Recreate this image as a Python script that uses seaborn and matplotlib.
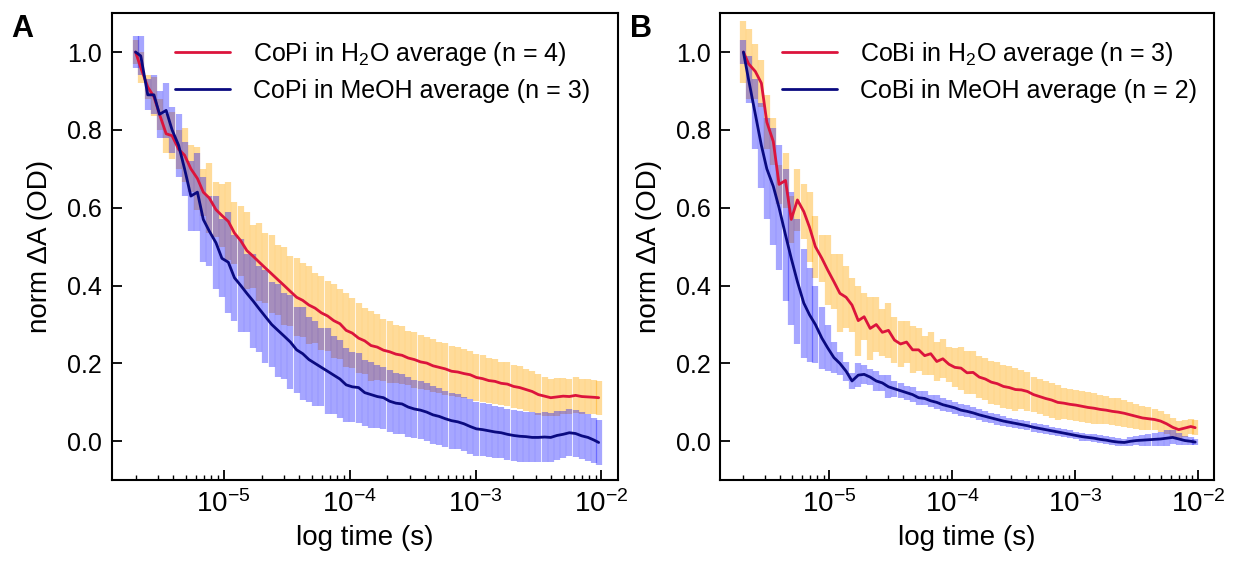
import numpy as np
import pandas as pd
import matplotlib
matplotlib.use("Agg")
import matplotlib.pyplot as plt
import seaborn as sns

FONT_SIZE = 18

# shared time axis (microseconds)
time_us = [2.0, 2.2, 2.5, 2.8, 3.1, 3.5, 3.9, 4.4, 4.9, 5.5,
           6.2, 6.9, 7.7, 8.7, 9.7, 10.9, 12.2, 13.7, 15.3, 17.2,
           19.2, 21.5, 24.1, 27.0, 30.3, 33.9, 38.0, 42.5, 47.6, 53.3,
           59.7, 66.9, 74.9, 83.9, 94.0, 105, 118, 132, 148, 166,
           186, 208, 233, 261, 292, 327, 366, 410, 459, 514,
           576, 645, 723, 810, 907, 1016, 1138, 1274, 1427, 1598,
           1790, 2005, 2245, 2515, 2816, 3154, 3533, 3957, 4432, 4963,
           5559, 6226, 6973, 7810, 8747, 9500]

# panel A: CoPi
copi_h2o = [1.00, 0.96, 0.91, 0.885, 0.84, 0.79, 0.785, 0.75, 0.735, 0.70,
            0.675, 0.64, 0.625, 0.595, 0.58, 0.565, 0.535, 0.515, 0.49, 0.475,
            0.46, 0.445, 0.43, 0.415, 0.40, 0.385, 0.37, 0.362, 0.35, 0.342,
            0.33, 0.322, 0.31, 0.302, 0.285, 0.278, 0.265, 0.258, 0.246, 0.242,
            0.234, 0.23, 0.224, 0.221, 0.214, 0.21, 0.204, 0.201, 0.194, 0.19,
            0.186, 0.18, 0.178, 0.174, 0.171, 0.164, 0.161, 0.156, 0.154, 0.149,
            0.147, 0.141, 0.138, 0.133, 0.128, 0.12, 0.116, 0.112, 0.114, 0.116,
            0.115, 0.118, 0.115, 0.114, 0.113, 0.112]
copi_h2o_err = [0.03, 0.04, 0.03, 0.05, 0.04, 0.05, 0.06, 0.05, 0.07, 0.06,
                0.08, 0.06, 0.09, 0.07, 0.08, 0.10, 0.08, 0.09, 0.10, 0.08,
                0.10, 0.09, 0.10, 0.09, 0.10, 0.09, 0.10, 0.095, 0.10, 0.09,
                0.095, 0.09, 0.095, 0.09, 0.095, 0.09, 0.09, 0.085, 0.09, 0.085,
                0.08, 0.08, 0.075, 0.075, 0.07, 0.072, 0.07, 0.068, 0.068, 0.066,
                0.066, 0.064, 0.064, 0.062, 0.062, 0.06, 0.06, 0.058, 0.058, 0.056,
                0.056, 0.055, 0.055, 0.054, 0.053, 0.052, 0.05, 0.048, 0.048, 0.047,
                0.046, 0.046, 0.045, 0.045, 0.044, 0.044]
copi_meoh = [1.00, 0.99, 0.89, 0.89, 0.84, 0.85, 0.80, 0.76, 0.70, 0.63,
             0.64, 0.57, 0.54, 0.51, 0.47, 0.46, 0.42, 0.40, 0.38, 0.36,
             0.34, 0.32, 0.30, 0.285, 0.27, 0.255, 0.235, 0.225, 0.21, 0.20,
             0.19, 0.18, 0.17, 0.16, 0.145, 0.14, 0.138, 0.125, 0.12, 0.115,
             0.112, 0.103, 0.098, 0.096, 0.088, 0.083, 0.08, 0.075, 0.068, 0.064,
             0.058, 0.053, 0.05, 0.045, 0.038, 0.032, 0.03, 0.027, 0.024, 0.022,
             0.018, 0.015, 0.013, 0.012, 0.01, 0.01, 0.011, 0.01, 0.015, 0.018,
             0.022, 0.02, 0.014, 0.01, 0.003, -0.003]
copi_meoh_err = [0.04, 0.05, 0.04, 0.05, 0.06, 0.07, 0.06, 0.08, 0.07, 0.09,
                 0.10, 0.11, 0.09, 0.12, 0.10, 0.13, 0.11, 0.12, 0.10, 0.12,
                 0.11, 0.12, 0.11, 0.12, 0.11, 0.12, 0.11, 0.12, 0.11, 0.11,
                 0.10, 0.11, 0.10, 0.10, 0.095, 0.09, 0.09, 0.085, 0.085, 0.08,
                 0.08, 0.08, 0.078, 0.076, 0.076, 0.075, 0.075, 0.074, 0.074, 0.073,
                 0.072, 0.072, 0.071, 0.07, 0.07, 0.069, 0.068, 0.068, 0.067, 0.066,
                 0.066, 0.065, 0.065, 0.064, 0.064, 0.063, 0.063, 0.062, 0.062, 0.061,
                 0.06, 0.06, 0.06, 0.06, 0.058, 0.058]

# panel B: CoBi
cobi_h2o = [1.00, 0.97, 0.95, 0.92, 0.82, 0.77, 0.66, 0.67, 0.57, 0.62,
            0.59, 0.55, 0.50, 0.47, 0.44, 0.41, 0.38, 0.37, 0.35, 0.31,
            0.32, 0.29, 0.30, 0.28, 0.285, 0.26, 0.25, 0.255, 0.235, 0.235,
            0.22, 0.225, 0.205, 0.212, 0.198, 0.19, 0.188, 0.176, 0.177, 0.165,
            0.16, 0.152, 0.148, 0.141, 0.138, 0.133, 0.132, 0.128, 0.12, 0.115,
            0.11, 0.106, 0.10, 0.098, 0.095, 0.093, 0.09, 0.087, 0.085, 0.082,
            0.08, 0.077, 0.075, 0.072, 0.068, 0.064, 0.06, 0.058, 0.056, 0.052,
            0.045, 0.036, 0.03, 0.034, 0.038, 0.035]
cobi_h2o_err = [0.08, 0.09, 0.07, 0.06, 0.07, 0.06, 0.05, 0.07, 0.06, 0.08,
                0.07, 0.09, 0.08, 0.06, 0.09, 0.07, 0.10, 0.08, 0.07, 0.09,
                0.06, 0.08, 0.07, 0.06, 0.07, 0.06, 0.06, 0.055, 0.06, 0.055,
                0.05, 0.055, 0.05, 0.05, 0.045, 0.05, 0.055, 0.055, 0.055, 0.055,
                0.055, 0.055, 0.055, 0.055, 0.055, 0.055, 0.05, 0.05, 0.045, 0.045,
                0.045, 0.045, 0.045, 0.04, 0.04, 0.04, 0.04, 0.04, 0.04, 0.038,
                0.036, 0.035, 0.035, 0.034, 0.033, 0.032, 0.03, 0.03, 0.028, 0.027,
                0.025, 0.024, 0.023, 0.022, 0.02, 0.02]
cobi_meoh = [1.00, 0.93, 0.84, 0.76, 0.70, 0.655, 0.60, 0.53, 0.47, 0.41,
             0.355, 0.325, 0.30, 0.265, 0.24, 0.215, 0.20, 0.18, 0.155, 0.17,
             0.172, 0.165, 0.155, 0.15, 0.14, 0.135, 0.13, 0.125, 0.12, 0.112,
             0.11, 0.104, 0.10, 0.094, 0.09, 0.086, 0.08, 0.077, 0.073, 0.068,
             0.064, 0.06, 0.056, 0.052, 0.049, 0.046, 0.043, 0.04, 0.036, 0.033,
             0.03, 0.027, 0.024, 0.021, 0.018, 0.015, 0.012, 0.01, 0.008, 0.005,
             0.003, 0.0, -0.002, -0.003, 0.0, 0.002, 0.003, 0.004, 0.005, 0.006,
             0.008, 0.01, 0.006, 0.002, 0.0, -0.002]
cobi_meoh_err = [0.03, 0.06, 0.09, 0.11, 0.13, 0.15, 0.16, 0.17, 0.17, 0.16,
                 0.14, 0.12, 0.10, 0.08, 0.06, 0.04, 0.03, 0.025, 0.02, 0.03,
                 0.025, 0.02, 0.025, 0.02, 0.03, 0.02, 0.02, 0.018, 0.02, 0.018,
                 0.018, 0.016, 0.018, 0.016, 0.016, 0.015, 0.015, 0.015, 0.014, 0.014,
                 0.014, 0.013, 0.013, 0.013, 0.012, 0.012, 0.012, 0.012, 0.011, 0.011,
                 0.011, 0.01, 0.01, 0.01, 0.01, 0.01, 0.01, 0.01, 0.01, 0.01,
                 0.01, 0.01, 0.01, 0.01, 0.012, 0.012, 0.014, 0.015, 0.016, 0.018,
                 0.02, 0.018, 0.015, 0.012, 0.01, 0.008]

labels_a = ["CoPi in H$_2$O average (n = 4)", "CoPi in MeOH average (n = 3)"]
labels_b = ["CoBi in H$_2$O average (n = 3)", "CoBi in MeOH average (n = 2)"]

RED = "#DC143C"
NAVY = "#0A0A80"

sns.set_style("ticks")
plt.rcParams["font.family"] = ["Liberation Sans", "DejaVu Sans"]
plt.rcParams["mathtext.fontset"] = "custom"
plt.rcParams["mathtext.rm"] = "Liberation Sans"
plt.rcParams["mathtext.it"] = "Liberation Sans:italic"
plt.rcParams["mathtext.bf"] = "Liberation Sans:bold"
plt.rcParams["axes.linewidth"] = 1.5
plt.rcParams["axes.edgecolor"] = "black"
for key in ["text.color", "axes.labelcolor", "xtick.color", "ytick.color"]:
    plt.rcParams[key] = "black"


def plot_panel(ax, h2o, h2o_err, meoh, meoh_err, labels):
    t = np.array(time_us) * 1e-6
    ax.errorbar(t, h2o, yerr=h2o_err, fmt="none", ecolor="orange", elinewidth=4.5, alpha=0.4)
    ax.errorbar(t, meoh, yerr=meoh_err, fmt="none", ecolor="blue", elinewidth=4.5, alpha=0.35)

    df = pd.DataFrame({
        "time": np.concatenate([t, t]),
        "value": h2o + meoh,
        "sample": [labels[0]] * len(t) + [labels[1]] * len(t),
    })
    sns.lineplot(data=df, x="time", y="value", hue="sample", hue_order=labels,
                 palette={labels[0]: RED, labels[1]: NAVY},
                 estimator=None, sort=False, linewidth=2.0, ax=ax)

    ax.set_xscale("log")
    ax.set_xlim(1.3e-6, 1.35e-2)
    ax.set_ylim(-0.1, 1.1)
    ax.set_yticks([0.0, 0.2, 0.4, 0.6, 0.8, 1.0])
    ax.set_xlabel("log time (s)", fontsize=20, labelpad=5)
    ax.set_ylabel("norm \u0394A (OD)", fontsize=20, labelpad=10)
    ax.tick_params(which="both", direction="in", top=False, right=False)
    ax.tick_params(axis="y", labelsize=FONT_SIZE)
    ax.tick_params(axis="x", labelsize=20)
    ax.tick_params(which="major", length=7, width=1.3, pad=7)
    ax.tick_params(which="minor", length=3.5, width=1.0)
    ax.tick_params(axis="y", which="minor", left=False)
    ax.legend(loc="upper left", bbox_to_anchor=(0.105, 0.964), frameon=False,
              fontsize=FONT_SIZE, handlelength=2.2, handletextpad=0.9,
              borderaxespad=0, labelspacing=0.45)
    for spine in ax.spines.values():
        spine.set_visible(True)
        spine.set_linewidth(1.5)


fig = plt.figure(figsize=(12.4, 5.69), dpi=100)
ax_a = fig.add_axes([0.0903, 0.156, 0.408, 0.821])
ax_b = fig.add_axes([0.581, 0.156, 0.398, 0.821])

plot_panel(ax_a, copi_h2o, copi_h2o_err, copi_meoh, copi_meoh_err, labels_a)
plot_panel(ax_b, cobi_h2o, cobi_h2o_err, cobi_meoh, cobi_meoh_err, labels_b)

fig.text(0.009, 0.975, "A", fontsize=22, fontweight="bold", va="top", ha="left")
fig.text(0.508, 0.975, "B", fontsize=22, fontweight="bold", va="top", ha="left")

fig.savefig("out.png", dpi=100)
plt.close(fig)
